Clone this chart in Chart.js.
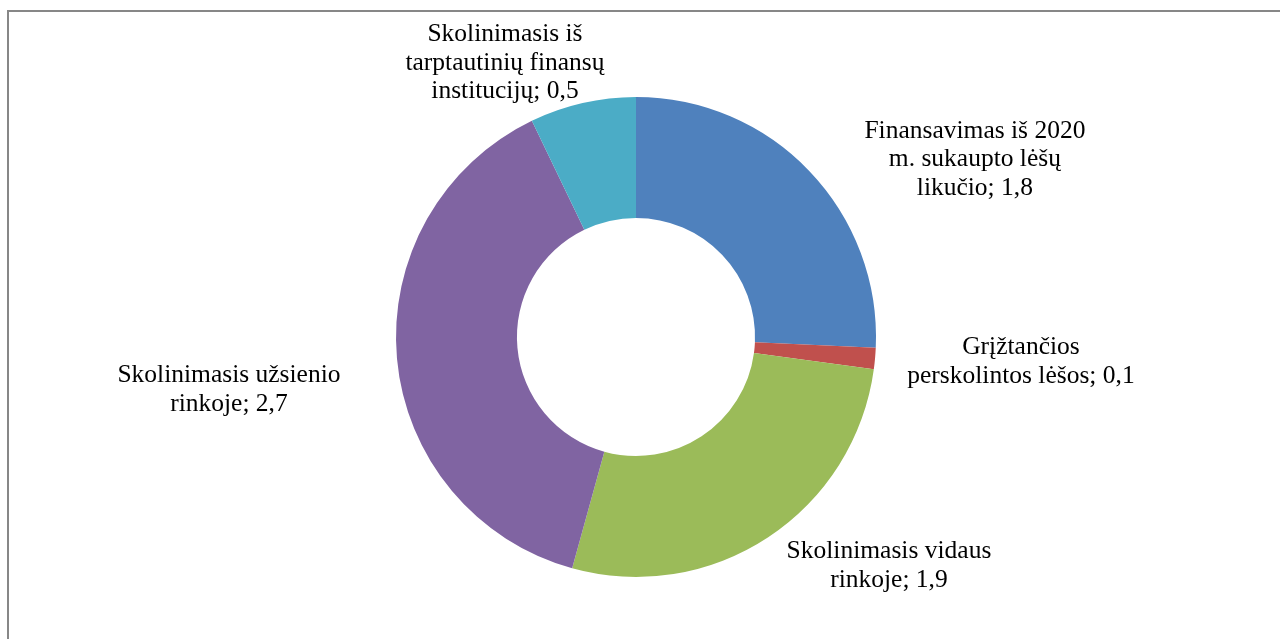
<!DOCTYPE html>
<html>
<head>
<meta charset="utf-8">
<style>
  html, body { margin: 0; padding: 0; background: #fff; }
  #wrap { width: 1280px; height: 639px; position: relative; }
</style>
<script src="https://cdn.jsdelivr.net/npm/chart.js@4.4.1/dist/chart.umd.min.js"></script>
</head>
<body>
<div id="wrap"><canvas id="financingChart" width="1280" height="639"></canvas></div>
<script>
// categories, already wrapped the way the reference shows them
const categories = [
    ["Finansavimas iš 2020", "m. sukaupto lėšų", "likučio"],
    ["Grįžtančios", "perskolintos lėšos"],
    ["Skolinimasis vidaus", "rinkoje"],
    ["Skolinimasis užsienio", "rinkoje"],
    ["Skolinimasis iš", "tarptautinių finansų", "institucijų"],
];
const values = [1.8, 0.1, 1.9, 2.7, 0.5];
const colors = ["#4F81BD", "#C0504D", "#9BBB59", "#8064A2", "#4BACC6"];

// label block centres, in multiples of the outer radius from the chart centre
const labelOffsets = [
    [1.412, -0.74],
    [1.604, 0.104],
    [1.054, 0.954],
    [-1.696, 0.221],
    [-0.546, -1.142],
];

const fmt = (v) => String(v).replace(".", ",");

const frame = {
    id: "frame",
    beforeDraw(chart) {
        const c = chart.ctx;
        c.save();
        c.fillStyle = "#878787";
        c.fillRect(7, 10, chart.width - 7, 2);
        c.fillRect(7, 10, 2, chart.height - 10);
        c.restore();
    },
};

const sliceLabels = {
    id: "sliceLabels",
    afterDatasetsDraw(chart) {
        const c = chart.ctx;
        const arcs = chart.getDatasetMeta(0).data;
        c.save();
        c.font = "25.5px 'Liberation Serif', 'Times New Roman', serif";
        c.fillStyle = "#000";
        c.textAlign = "center";
        c.textBaseline = "middle";
        const lineH = 28.5;
        arcs.forEach((arc, i) => {
            const r = arc.outerRadius;
            const cx = arc.x + labelOffsets[i][0] * r;
            const cy = arc.y + labelOffsets[i][1] * r;
            const lines = categories[i].slice();
            lines[lines.length - 1] += "; " + fmt(values[i]);
            const top = cy - ((lines.length - 1) * lineH) / 2;
            lines.forEach((t, k) => c.fillText(t, cx, top + k * lineH));
        });
        c.restore();
    },
};

const ctx = document.getElementById("financingChart");

new Chart(ctx, {
    type: "doughnut",
    data: {
        labels: categories,
        datasets: [
            {
                data: values,
                backgroundColor: colors,
                borderWidth: 0,
            },
        ],
    },
    options: {
        responsive: false,
        animation: false,
        cutout: "49.6%",
        layout: {
            padding: { top: 97, bottom: 62, left: 0, right: 8 },
        },
        plugins: {
            legend: { display: false },
            tooltip: { enabled: false },
        },
    },
    plugins: [frame, sliceLabels],
});
</script>
</body>
</html>
